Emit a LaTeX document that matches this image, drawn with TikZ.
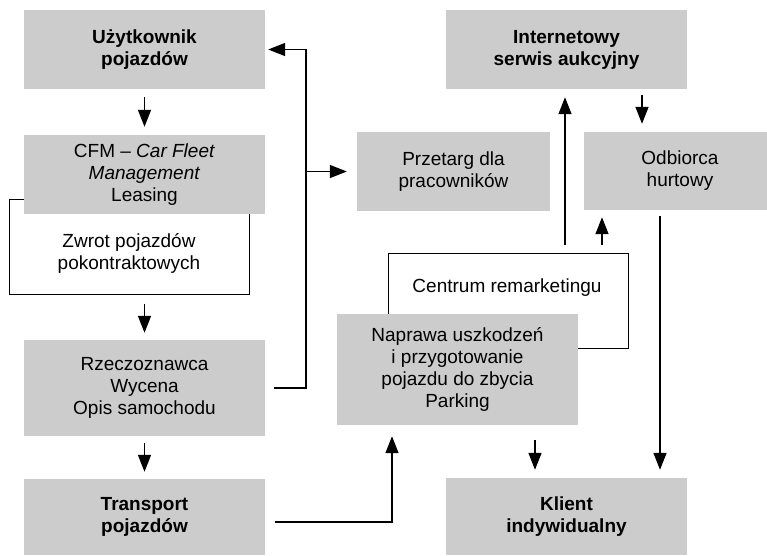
\documentclass[tikz,border=0pt]{standalone}
\usepackage{fontspec}
\setmainfont{Liberation Sans}
\usetikzlibrary{arrows.meta}
\definecolor{boxgray}{RGB}{204,204,204}
\begin{document}
\begin{tikzpicture}[x=1pt,y=-1pt,
  gbox/.style={fill=boxgray, draw=none, align=center, font=\fontsize{19}{22}\selectfont, inner sep=0pt},
  gboxb/.style={gbox, font=\fontsize{19}{22}\selectfont\bfseries},
  wbox/.style={draw=black, line width=1pt, fill=white, inner sep=0pt},
  txt/.style={align=center, font=\fontsize{19}{22}\selectfont, inner sep=0pt},
  arr/.style={line width=1.5pt, -{Triangle[length=17pt,width=13pt]}},
  ln/.style={line width=1.5pt}]
\useasboundingbox (0,0) rectangle (767,555);
% white frames
\node[wbox, minimum width=240pt, minimum height=95pt] (zwrot) at (129,246.5) {};
\node[txt] (zwrott) at (129,253) {Zwrot pojazdów\\pokontraktowych};
\node[wbox, minimum width=240pt, minimum height=95pt] (centrum) at (508,300.5) {};
\node[txt] (centrumt) at (507,288) {Centrum remarketingu};
% gray boxes
\node[gboxb, minimum width=241pt, minimum height=79pt] (user) at (144.5,49.5) {Użytkownik\\pojazdów};
\node[gbox, minimum width=241pt, minimum height=79pt] (cfm) at (144.5,174.5) {CFM -- \textit{Car Fleet}\\\textit{Management}\\Leasing};
\node[gbox, minimum width=241pt, minimum height=96pt] (rzecz) at (144.5,388) {Rzeczoznawca\\Wycena\\Opis samochodu};
\node[gboxb, minimum width=241pt, minimum height=76pt] (transport) at (144.5,517) {Transport\\pojazdów};
\node[gbox, minimum width=193pt, minimum height=79pt] (przetarg) at (453.5,171.5) {Przetarg dla\\pracowników};
\node[gboxb, minimum width=241pt, minimum height=79pt] (internet) at (566.5,49.5) {Internetowy\\serwis aukcyjny};
\node[gbox, minimum width=192pt, minimum height=78pt] (odbiorca) at (680,171) {Odbiorca\\hurtowy};
\node[gbox, minimum width=241pt, minimum height=111pt] (naprawa) at (457.5,369.5) {Naprawa uszkodzeń\\i przygotowanie\\pojazdu do zbycia\\Parking};
\node[gboxb, minimum width=241pt, minimum height=77pt] (klient) at (566.5,516.5) {Klient\\indywidualny};
% connectors
\draw[arr, shorten <=8pt, shorten >=8pt] (user.south) -- (cfm.north);
\draw[arr, shorten <=9pt, shorten >=7pt] (zwrot.south -| cfm.south) -- (rzecz.north);
\draw[arr, shorten <=7pt, shorten >=7pt] (rzecz.south) -- (transport.north);
\coordinate (j) at (306,388);
\coordinate (b) at (306,171.5);
\draw[arr, shorten <=9pt, shorten >=3pt] (rzecz.east) -- (j) |- (user.east);
\draw[arr, shorten >=10pt] (b) -- (przetarg.west);
\coordinate (t) at (392,522);
\draw[arr, shorten <=10pt, shorten >=11pt] ([yshift=-5pt]transport.east) -- (t) -- (t |- naprawa.south);
\coordinate (kx) at (535,0);
\draw[arr, shorten <=15pt, shorten >=8pt] (kx |- naprawa.south) -- (kx |- klient.north);
\coordinate (ix) at (565,0);
\draw[arr, shorten <=8pt, shorten >=8pt] (ix |- centrum.north) -- (ix |- internet.south);
\coordinate (ox) at (602,0);
\draw[arr, shorten <=8pt, shorten >=7pt] (ox |- centrum.north) -- (ox |- odbiorca.south);
\coordinate (dx) at (642,0);
\draw[arr, shorten <=6pt, shorten >=8pt] (dx |- internet.south) -- (dx |- odbiorca.north);
\coordinate (hx) at (660,0);
\draw[arr, shorten <=6pt, shorten >=8pt] (hx |- odbiorca.south) -- (hx |- klient.north);
\end{tikzpicture}
\end{document}
